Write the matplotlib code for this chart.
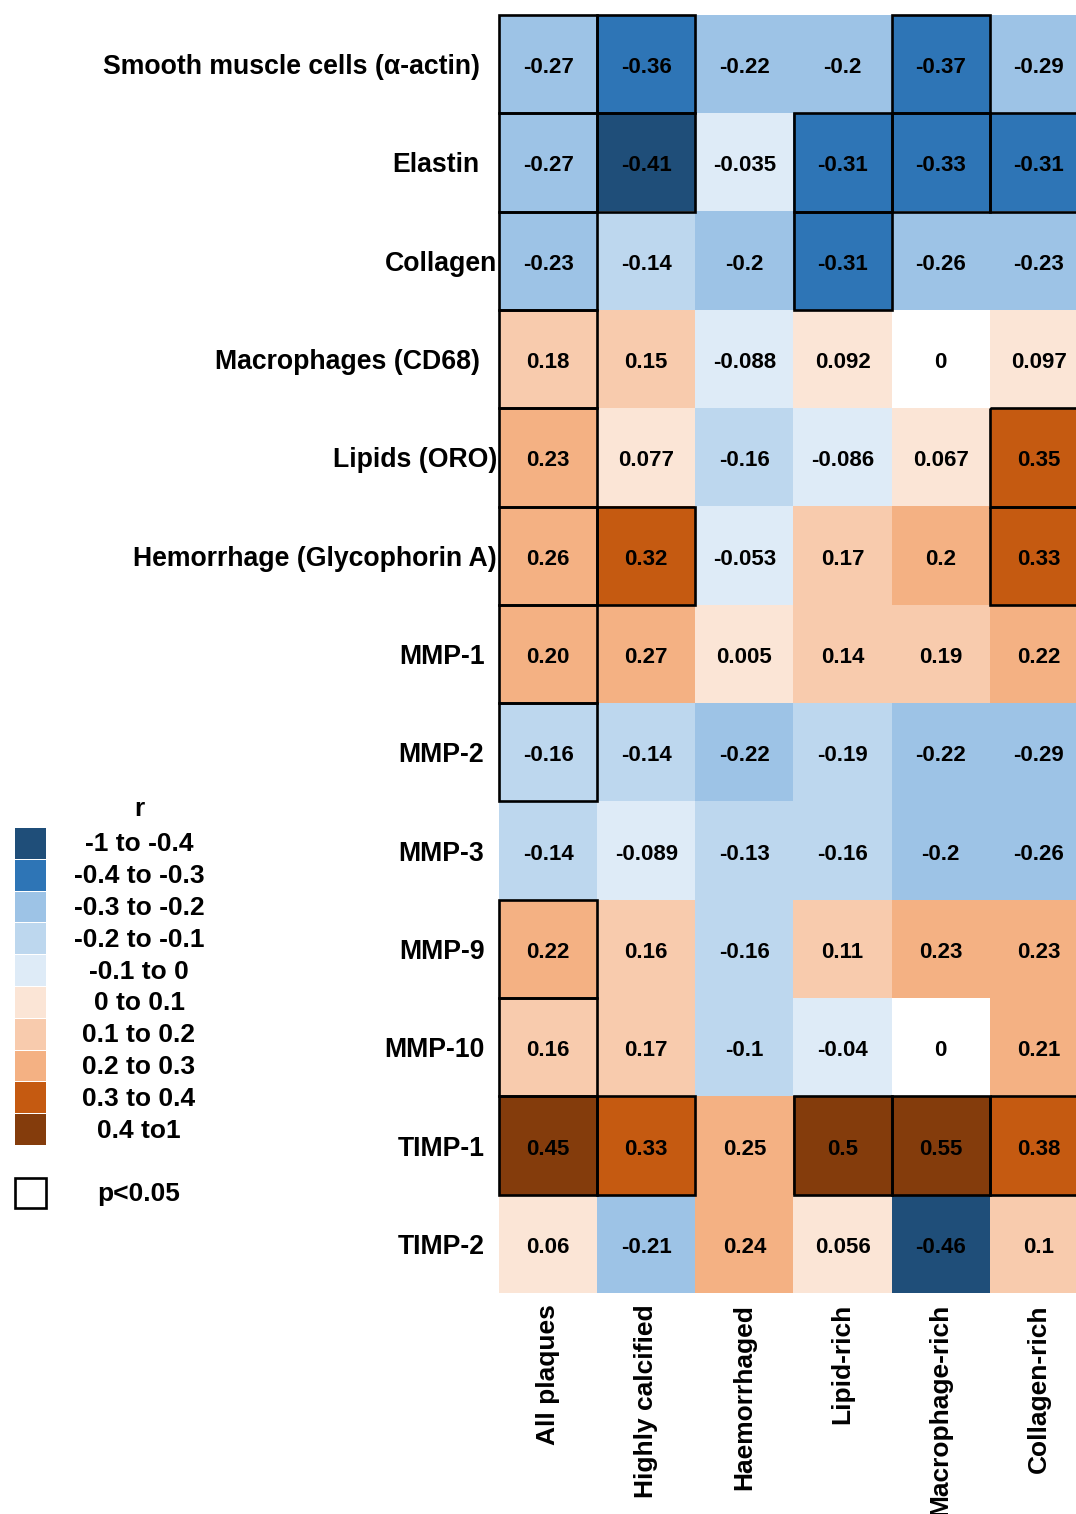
import numpy as np
import matplotlib
matplotlib.use("Agg")
import matplotlib.pyplot as plt
from matplotlib.colors import ListedColormap
from matplotlib.patches import Rectangle

plt.rcParams['font.family'] = ['Liberation Sans', 'DejaVu Sans']
plt.rcParams['font.weight'] = 'bold'

# data
rows = ["Smooth muscle cells (\u03b1-actin)", "Elastin", "Collagen", "Macrophages (CD68)",
        "Lipids (ORO)", "Hemorrhage (Glycophorin A)", "MMP-1", "MMP-2", "MMP-3",
        "MMP-9", "MMP-10", "TIMP-1", "TIMP-2"]
cols = ["All plaques", "Highly calcified", "Haemorrhaged", "Lipid-rich",
        "Macrophage-rich", "Collagen-rich"]

r_text = [
    ["-0.27", "-0.36", "-0.22", "-0.2", "-0.37", "-0.29"],
    ["-0.27", "-0.41", "-0.035", "-0.31", "-0.33", "-0.31"],
    ["-0.23", "-0.14", "-0.2", "-0.31", "-0.26", "-0.23"],
    ["0.18", "0.15", "-0.088", "0.092", "0", "0.097"],
    ["0.23", "0.077", "-0.16", "-0.086", "0.067", "0.35"],
    ["0.26", "0.32", "-0.053", "0.17", "0.2", "0.33"],
    ["0.20", "0.27", "0.005", "0.14", "0.19", "0.22"],
    ["-0.16", "-0.14", "-0.22", "-0.19", "-0.22", "-0.29"],
    ["-0.14", "-0.089", "-0.13", "-0.16", "-0.2", "-0.26"],
    ["0.22", "0.16", "-0.16", "0.11", "0.23", "0.23"],
    ["0.16", "0.17", "-0.1", "-0.04", "0", "0.21"],
    ["0.45", "0.33", "0.25", "0.5", "0.55", "0.38"],
    ["0.06", "-0.21", "0.24", "0.056", "-0.46", "0.1"],
]

# p<0.05 cells
signif = [
    [1, 1, 0, 0, 1, 0],
    [1, 1, 0, 1, 1, 1],
    [1, 0, 0, 1, 0, 0],
    [1, 0, 0, 0, 0, 0],
    [1, 0, 0, 0, 0, 1],
    [1, 1, 0, 0, 0, 1],
    [1, 0, 0, 0, 0, 0],
    [1, 0, 0, 0, 0, 0],
    [0, 0, 0, 0, 0, 0],
    [1, 0, 0, 0, 0, 0],
    [1, 0, 0, 0, 0, 0],
    [1, 1, 0, 1, 1, 1],
    [0, 0, 0, 0, 0, 0],
]

bin_labels = ["-1 to -0.4", "-0.4 to -0.3", "-0.3 to -0.2", "-0.2 to -0.1", "-0.1 to 0",
              "0 to 0.1", "0.1 to 0.2", "0.2 to 0.3", "0.3 to 0.4", "0.4 to1"]
bin_colors = ["#1f4e79", "#2e75b6", "#9dc3e6", "#bdd7ee", "#deebf7",
              "#fbe5d6", "#f8cbad", "#f4b183", "#c55a11", "#843c0c"]

r = np.array([[float(v) for v in row] for row in r_text])
sig = np.array(signif)

# category index: 0..4 negative (dark->light), 5 = zero (white), 6..10 positive
mag = np.minimum(np.floor(np.round(np.abs(r) * 10, 6)), 4).astype(int)
cat = np.where(r < 0, 4 - mag, np.where(r > 0, 6 + mag, 5))
cmap = ListedColormap(bin_colors[:5] + ["#ffffff"] + bin_colors[5:])

W, H = 1076, 1514
fig = plt.figure(figsize=(W / 100, H / 100), dpi=100)
ax = fig.add_axes([499 / W, (H - 1293) / H, 589 / W, 1278 / H])
ax.imshow(cat, cmap=cmap, vmin=-0.5, vmax=10.5, aspect='auto', interpolation='nearest')
ax.set_xlim(-0.5, len(cols) - 0.5)
ax.set_ylim(len(rows) - 0.5, -0.5)
for s in ax.spines.values():
    s.set_visible(False)
ax.set_yticks([])
ax.set_xticks(range(len(cols)))
ax.set_xticklabels(cols, rotation=90, fontsize=19, va='top', ha='center')
ax.tick_params(axis='x', length=0, pad=8)

for i in range(len(rows)):
    for j in range(len(cols)):
        ax.text(j, i + 0.01, r_text[i][j], ha='center', va='center_baseline', fontsize=16)
        if sig[i, j]:
            ax.add_patch(Rectangle((j - 0.5, i - 0.5), 1, 1, fill=False,
                                   edgecolor='black', lw=1.9, zorder=3, clip_on=False))

# row labels, a few sit right against the grid
tight = {"Collagen", "Lipids (ORO)", "Hemorrhage (Glycophorin A)"}
for i, name in enumerate(rows):
    if name in tight:
        off = -1.5
    elif name.startswith(("MMP", "TIMP")):
        off = -10.5
    else:
        off = -14
    ax.annotate(name, xy=(-0.5, i), xytext=(off, 0), textcoords='offset points',
                ha='right', va='center_baseline', fontsize=19.2, annotation_clip=False)

# legend
lg = fig.add_axes([0, 0, 1, 1], facecolor='none')
lg.set_xlim(0, W)
lg.set_ylim(H, 0)
lg.axis('off')
lg.text(139, 809, "r", ha='center', va='center', fontsize=19)
top, step = 828, 31.8
for k, (lab, c) in enumerate(zip(bin_labels, bin_colors)):
    y0 = top + k * step
    lg.add_patch(Rectangle((15, y0), 31, step - 1, facecolor=c, edgecolor='none'))
    lg.text(139, y0 + step / 2 - 2, lab, ha='center', va='center_baseline', fontsize=19)
lg.add_patch(Rectangle((15, 1178), 31, 30, facecolor='white', edgecolor='black', lw=1.9))
lg.text(139, 1192, "p<0.05", ha='center', va='center_baseline', fontsize=19)

fig.savefig("out.png", dpi=100)
